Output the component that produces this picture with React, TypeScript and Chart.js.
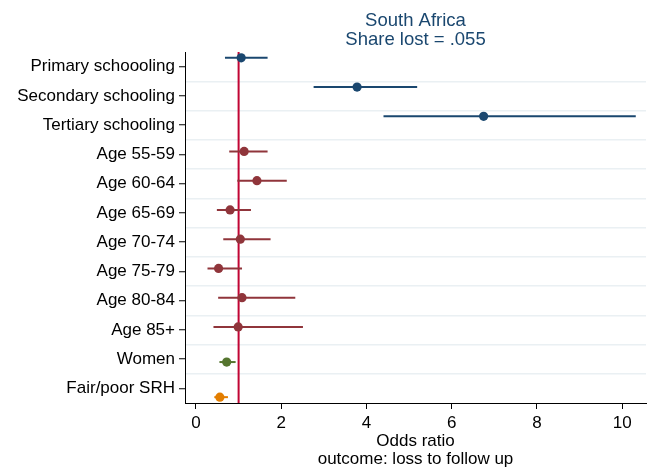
import React, { useEffect, useRef } from 'react';
import { Chart, registerables } from 'chart.js';

Chart.register(...registerables);

const categories = [
  'Primary schoooling',
  'Secondary schooling',
  'Tertiary schooling',
  'Age 55-59',
  'Age 60-64',
  'Age 65-69',
  'Age 70-74',
  'Age 75-79',
  'Age 80-84',
  'Age 85+',
  'Women',
  'Fair/poor SRH',
];

// Education (rows 0-2)
const educationEst = [1.06, 3.78, 6.75];
const educationLo = [0.68, 2.76, 4.4];
const educationHi = [1.68, 5.19, 10.32];

// Age groups (rows 3-9)
const ageEst = [1.13, 1.43, 0.8, 1.04, 0.53, 1.08, 0.99];
const ageLo = [0.78, 0.97, 0.49, 0.64, 0.27, 0.52, 0.41];
const ageHi = [1.68, 2.13, 1.29, 1.75, 1.08, 2.33, 2.51];

// Women (row 10)
const womenEst = [0.72];
const womenLo = [0.55];
const womenHi = [0.93];

// Fair/poor SRH (row 11)
const srhEst = [0.56];
const srhLo = [0.43];
const srhHi = [0.75];

const xTicks = [0, 2, 4, 6, 8, 10];
const referenceValue = 1;
const titleLines = ['South Africa', 'Share lost = .055'];
const xTitleLines = ['Odds ratio', 'outcome: loss to follow up'];

const series = [
  { est: educationEst, lo: educationLo, hi: educationHi, start: 0, offset: -0.3, color: '#1a476f' },
  { est: ageEst, lo: ageLo, hi: ageHi, start: 3, offset: -0.1, color: '#90353b' },
  { est: womenEst, lo: womenLo, hi: womenHi, start: 10, offset: 0.1, color: '#55752f' },
  { est: srhEst, lo: srhLo, hi: srhHi, start: 11, offset: 0.3, color: '#e37e00' },
];

const FONT = "'Liberation Sans', Arial, Helvetica, sans-serif";

const isRow = (ctx: any) => {
  if (ctx && ctx.tick && typeof ctx.tick.value === 'number') return Number.isInteger(ctx.tick.value);
  return ctx && typeof ctx.index === 'number' ? ctx.index % 2 === 0 : false;
};

export default function App() {
  const ref = useRef<HTMLCanvasElement | null>(null);

  useEffect(() => {
    if (!ref.current) return;
    const datasets: any[] = [];
    // point estimates (top layer)
    series.forEach((s) => {
      datasets.push({
        type: 'scatter',
        data: s.est.map((v, i) => ({ x: v, y: s.start + i + s.offset })),
        pointRadius: 4.6,
        pointBackgroundColor: s.color,
        pointBorderWidth: 0,
        pointBorderColor: s.color,
        showLine: false,
        xAxisID: 'x',
        yAxisID: 'y',
        order: 1,
      });
    });
    // confidence intervals
    series.forEach((s) => {
      s.est.forEach((_, i) => {
        const y = s.start + i + s.offset;
        datasets.push({
          type: 'line',
          data: [
            { x: s.lo[i], y },
            { x: s.hi[i], y },
          ],
          borderColor: s.color,
          borderWidth: 2,
          pointRadius: 0,
          fill: false,
          xAxisID: 'x',
          yAxisID: 'y',
          order: 2,
        });
      });
    });
    // reference line at 1
    datasets.push({
      type: 'line',
      data: [
        { x: referenceValue, y: -0.5 },
        { x: referenceValue, y: categories.length - 0.5 },
      ],
      borderColor: '#c10534',
      borderWidth: 2,
      pointRadius: 0,
      fill: false,
      xAxisID: 'x',
      yAxisID: 'y',
      order: 3,
    });

    const chart = new Chart(ref.current, {
      type: 'scatter',
      data: { datasets },
      options: {
        animation: false,
        responsive: true,
        maintainAspectRatio: false,
        layout: { padding: { left: 0, right: 5, top: 0, bottom: 0 } },
        plugins: {
          legend: { display: false },
          tooltip: { enabled: false },
          title: { display: false },
        },
        scales: {
          x: {
            type: 'linear',
            position: 'bottom',
            min: -0.258,
            max: 10.56,
            afterBuildTicks: (scale: any) => {
              scale.ticks = xTicks.map((v) => ({ value: v }));
            },
            afterFit: (scale: any) => {
              scale.height = 66;
            },
            grid: {
              drawOnChartArea: false,
              drawTicks: true,
              tickLength: 6,
              tickColor: '#000',
              tickWidth: 1,
            },
            border: { display: true, color: '#000', width: 1 },
            ticks: {
              color: '#000',
              font: { family: FONT, size: 17 },
              padding: 4,
              maxRotation: 0,
              autoSkip: false,
            },
            title: {
              display: true,
              text: xTitleLines,
              color: '#000',
              font: { family: FONT, size: 17, lineHeight: 1.02 },
              padding: { top: 0, bottom: 1.5 },
            },
          },
          xTop: {
            type: 'linear',
            position: 'top',
            min: 0,
            max: 1,
            afterFit: (scale: any) => {
              scale.height = 52;
            },
            grid: { display: false, drawTicks: false },
            border: { display: false },
            ticks: { display: false },
            title: {
              display: true,
              text: titleLines,
              color: '#1a476f',
              font: { family: FONT, size: 18.5, lineHeight: 1.03 },
              padding: { top: 11, bottom: 0 },
            },
          },
          y: {
            type: 'linear',
            reverse: true,
            min: -0.5,
            max: categories.length - 0.5,
            afterBuildTicks: (scale: any) => {
              const t: any[] = [];
              categories.forEach((_, i) => {
                t.push({ value: i });
                if (i < categories.length - 1) t.push({ value: i + 0.5 });
              });
              scale.ticks = t;
            },
            afterFit: (scale: any) => {
              scale.width = 185;
            },
            grid: {
              drawOnChartArea: true,
              drawTicks: true,
              tickLength: 6,
              lineWidth: 1.5,
              tickWidth: 1,
              color: (ctx: any) => (isRow(ctx) ? 'rgba(0,0,0,0)' : '#eaf0f3'),
              tickColor: (ctx: any) => (isRow(ctx) ? '#000' : 'rgba(0,0,0,0)'),
            },
            border: { display: true, color: '#000', width: 1 },
            ticks: {
              autoSkip: false,
              color: '#000',
              font: { family: FONT, size: 17 },
              padding: 4,
              callback: (value: any) =>
                Number.isInteger(value) ? categories[value as number] : '',
            },
          },
        },
      } as any,
    });
    return () => chart.destroy();
  }, []);

  return (
    <div style={{ position: 'absolute', left: 0, top: 0, width: 651, height: 469 }}>
      <canvas ref={ref} />
    </div>
  );
}
